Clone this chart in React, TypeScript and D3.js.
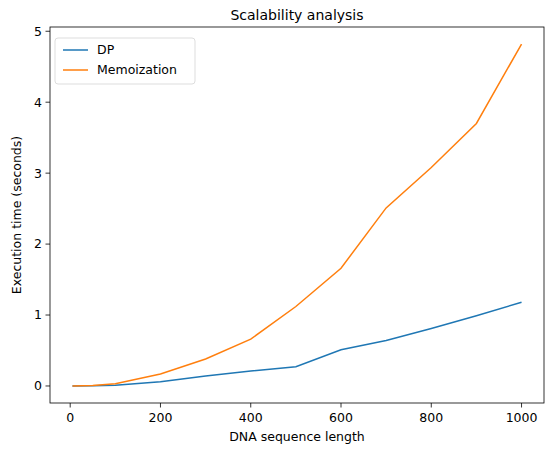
import React from "react";
import * as d3 from "d3";

const lengths = [5, 50, 100, 200, 300, 400, 500, 600, 700, 800, 900, 1000];
const dpTimes = [0, 0.002, 0.01, 0.06, 0.14, 0.21, 0.27, 0.51, 0.64, 0.81, 0.99, 1.18];
const memoTimes = [0, 0.005, 0.03, 0.17, 0.38, 0.66, 1.12, 1.66, 2.51, 3.08, 3.7, 4.82];
const xTicks = [0, 200, 400, 600, 800, 1000];
const yTicks = [0, 1, 2, 3, 4, 5];

const series = [
  { name: "DP", values: dpTimes, color: "#1f77b4" },
  { name: "Memoization", values: memoTimes, color: "#ff7f0e" },
];

const W = 554, H = 455;
const m = { left: 50, right: 10, top: 27, bottom: 52 };

export default function App() {
  const x = d3.scaleLinear([-44.75, 1049.75], [m.left, W - m.right]);
  const y = d3.scaleLinear([-0.24, 5.06], [H - m.bottom, m.top]);
  const line = d3.line<number>().x((_, i) => x(lengths[i])).y((d) => y(d));
  const font = "DejaVu Sans, sans-serif";
  return (
    <svg width={W} height={H} style={{ position: "absolute", left: 0, top: 0, fontFamily: font }}>
      <rect width={W} height={H} fill="#fff" />
      <text x={(m.left + W - m.right) / 2} y={m.top - 7} textAnchor="middle" fontSize={14}>Scalability analysis</text>
      {series.map((s) => (
        <path key={s.name} d={line(s.values)!} fill="none" stroke={s.color} strokeWidth={1.5} />
      ))}
      <rect x={m.left} y={m.top} width={W - m.left - m.right} height={H - m.top - m.bottom} fill="none" stroke="#000" strokeWidth={0.8} />
      {xTicks.map((t) => (
        <g key={t} transform={`translate(${x(t)},${H - m.bottom})`}>
          <line y2={4.5} stroke="#000" strokeWidth={0.8} />
          <text y={19} textAnchor="middle" fontSize={12.5}>{t}</text>
        </g>
      ))}
      {yTicks.map((t) => (
        <g key={t} transform={`translate(${m.left},${y(t)})`}>
          <line x2={-4.5} stroke="#000" strokeWidth={0.8} />
          <text x={-8} dy="0.35em" textAnchor="end" fontSize={12.5}>{t}</text>
        </g>
      ))}
      <text x={(m.left + W - m.right) / 2} y={H - 14} textAnchor="middle" fontSize={12.5}>DNA sequence length</text>
      <text transform={`translate(21,${(m.top + H - m.bottom) / 2}) rotate(-90)`} textAnchor="middle" fontSize={12.5}>Execution time (seconds)</text>
      <g transform={`translate(${m.left + 5},${m.top + 11})`}>
        <rect width={140} height={46} rx={3} fill="#fff" stroke="#ccc" strokeWidth={0.8} opacity={0.8} />
        {series.map((s, i) => (
          <g key={s.name} transform={`translate(8,${12 + i * 20})`}>
            <line x2={25} stroke={s.color} strokeWidth={1.5} />
            <text x={34} dy="0.35em" fontSize={12.5}>{s.name}</text>
          </g>
        ))}
      </g>
    </svg>
  );
}
